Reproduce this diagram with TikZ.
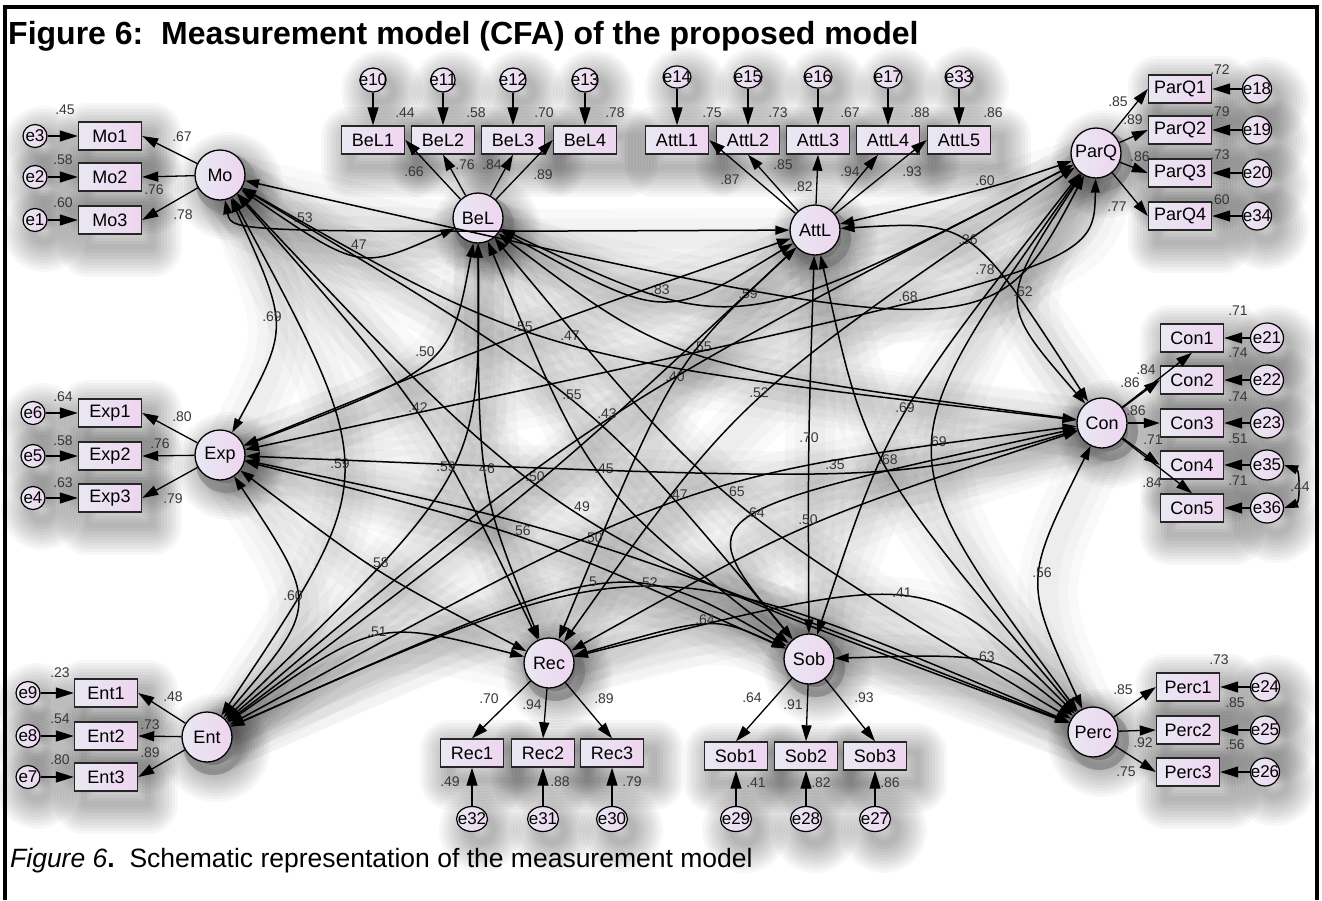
\documentclass[tikz,border=0pt]{standalone}
\usepackage{fontspec}
\setmainfont{Liberation Sans}
\usetikzlibrary{arrows.meta,calc,shapes.geometric}

\definecolor{lavA}{RGB}{233,232,242}
\definecolor{lavB}{RGB}{238,213,240}
\definecolor{numgray}{RGB}{55,55,55}

\pgfdeclarelayer{haze}
\pgfsetlayers{haze,main}

\tikzset{
  lat/.style={circle, draw=black, line width=1.3pt, left color=lavA, right color=lavB,
    minimum size=50pt, inner sep=0pt, font=\fontsize{18}{18}\selectfont},
  obs/.style={rectangle, draw=black!85, line width=1.4pt, left color=lavA, right color=lavB,
    minimum width=63pt, minimum height=28pt, inner sep=0pt, font=\fontsize{18}{18}\selectfont},
  err/.style={ellipse, draw=black, line width=1.2pt, left color=lavA, right color=lavB,
    inner sep=-5pt, font=\fontsize{17}{17}\selectfont},
  errL/.style={err, minimum width=24pt, minimum height=23pt},
  errT/.style={err, minimum width=24pt, minimum height=24pt},
  errA/.style={err, minimum width=28pt, minimum height=22pt},
  errR/.style={err, minimum width=29pt, minimum height=28pt},
  errC/.style={err, minimum width=33pt, minimum height=30pt},
  errB/.style={err, minimum width=31pt, minimum height=25pt},
  num/.style={text=numgray, font=\fontsize{14}{14}\selectfont, inner sep=0pt},
  load/.style={draw=black, line width=1.3pt, -{Triangle[length=16pt,width=10pt]}},
  errar/.style={draw=black, line width=1.3pt, -{Triangle[length=18pt,width=11pt]}},
  covl/.style={draw=black, line width=1.5pt,
    {Triangle[length=14pt,width=9pt]}-{Triangle[length=14pt,width=9pt]}},
  hz/.style={draw=black, opacity=0.022, line cap=round},
  sh/.style={draw=black, opacity=0.032, line join=round},
}

% soft drop shadows, built from widening translucent outlines on the haze layer
\newcommand\bshadow[1]{%
  \begin{pgfonlayer}{haze}
    \foreach \w in {6,12,...,60}
      \path[sh, line width=\w pt]
        ([shift={(10,12)}]#1.south west) rectangle ([shift={(10,12)}]#1.north east);
  \end{pgfonlayer}}
\newcommand\cshadow[2]{%
  \begin{pgfonlayer}{haze}
    \foreach \w in {6,12,...,60}
      \path[sh, line width=\w pt] ([shift={(9,11)}]#1.center) circle (#2);
  \end{pgfonlayer}}

% covariance between two latent factors: the curve passes next to its label
\newcommand\covar[5]{%
  \path ($(#1)!0.5!(#2)$) coordinate (cvm);
  \path ($(#3,#4)+(0,7)$) coordinate (cvl);
  \path ($(cvl)!-0.3333!(cvm)$) coordinate (cvc);
  \begin{pgfonlayer}{haze}
    \foreach \w in {60,40,20}
      \draw[hz, line width=\w pt] ([shift={(6,8)}]#1.center) .. controls ([shift={(6,8)}]cvc) .. ([shift={(6,8)}]#2.center);
  \end{pgfonlayer}
  \draw[covl] (#1) .. controls (cvc) .. (#2);
  \node[num] (c#1#2) at (#3,#4) {#5};
}

\begin{document}
\begin{tikzpicture}[x=1pt, y=-1pt]
\useasboundingbox (0,0) rectangle (1322,900);
\begin{pgfonlayer}{haze}
  \fill[white] (0,0) rectangle (1322,900);
\end{pgfonlayer}
\draw[line width=4pt] (5,900) -- (5,7) -- (1317,7) -- (1317,900);

\node[anchor=base west, inner sep=0pt, font=\bfseries\fontsize{32}{32}\selectfont] (title) at (8,44)
  {Figure 6:\ \ Measurement model (CFA) of the proposed model};
\node[anchor=base west, inner sep=0pt, font=\fontsize{26.5}{26.5}\selectfont] (caption) at (10,867)
  {\textit{Figure 6}\textbf{.}\ \ Schematic representation of the measurement model};

% ---------- latent factors ----------
\node[lat] (Mo)   at (220,175)  {Mo};
\node[lat] (BeL)  at (478,218)  {BeL};
\node[lat] (AttL) at (815,230)  {AttL};
\node[lat] (ParQ) at (1096,153) {ParQ};
\node[lat] (Exp)  at (220,455)  {Exp};
\node[lat] (Con)  at (1102,423) {Con};
\node[lat] (Ent)  at (207,737)  {Ent};
\node[lat] (Rec)  at (549,663)  {Rec};
\node[lat] (Sob)  at (809,659)  {Sob};
\node[lat] (Perc) at (1093,732) {Perc};
\foreach \f in {Mo,BeL,AttL,ParQ,Exp,Con,Ent,Rec,Sob,Perc} {\cshadow{\f}{24}}

% ---------- Mo ----------
\foreach \i/\y/\e in {1/136/3, 2/177/2, 3/220/1} {
  \node[obs] (Mo\i) at (110,\y) {Mo\i};
  \bshadow{Mo\i}
  \node[errL] (e\e) at (35,\y) {e\e};
  \cshadow{e\e}{11}
  \draw[errar] (e\e) -- (Mo\i);
  \draw[load] (Mo) -- (Mo\i.east);
}
\node[num] (sMo1) at (65,110) {.45};
\node[num] (sMo2) at (63,160) {.58};
\node[num] (sMo3) at (63,203) {.60};
\node[num] (lMo1) at (182,137) {.67};
\node[num] (lMo2) at (154,190) {.76};
\node[num] (lMo3) at (183,215) {.78};

% ---------- Exp ----------
\foreach \i/\y/\e in {1/413/6, 2/456/5, 3/498/4} {
  \node[obs] (Exp\i) at (110,\y) {Exp\i};
  \bshadow{Exp\i}
  \node[errL] (e\e) at (33,\y) {e\e};
  \cshadow{e\e}{11}
  \draw[errar] (e\e) -- (Exp\i);
  \draw[load] (Exp) -- (Exp\i.east);
}
\node[num] (sExp1) at (63,397) {.64};
\node[num] (sExp2) at (63,441) {.58};
\node[num] (sExp3) at (63,483) {.63};
\node[num] (lExp1) at (182,417) {.80};
\node[num] (lExp2) at (160,444) {.76};
\node[num] (lExp3) at (173,499) {.79};

% ---------- Ent ----------
\foreach \i/\y/\e in {1/693/9, 2/736/8, 3/777/7} {
  \node[obs] (Ent\i) at (106,\y) {Ent\i};
  \bshadow{Ent\i}
  \node[errL] (e\e) at (28,\y) {e\e};
  \cshadow{e\e}{11}
  \draw[errar] (e\e) -- (Ent\i);
  \draw[load] (Ent) -- (Ent\i.east);
}
\node[num] (sEnt1) at (60,673) {.23};
\node[num] (sEnt2) at (60,719) {.54};
\node[num] (sEnt3) at (60,760) {.80};
\node[num] (lEnt1) at (173,697) {.48};
\node[num] (lEnt2) at (150,725) {.73};
\node[num] (lEnt3) at (150,753) {.89};

% ---------- BeL ----------
\foreach \i/\x/\e in {1/373/10, 2/443/11, 3/513/12, 4/585/13} {
  \node[obs] (BeL\i) at (\x,140) {BeL\i};
  \bshadow{BeL\i}
  \node[errT] (e\e) at (\x,80) {e\e};
  \cshadow{e\e}{11}
  \draw[errar] (e\e) -- (BeL\i);
}
\draw[load] (BeL) -- (BeL1.east);
\draw[load] (BeL) -- (BeL2.south);
\draw[load] (BeL) -- (BeL3.south);
\draw[load] (BeL) -- (BeL4.west);
\node[num] (sBeL1) at (405,113) {.44};
\node[num] (sBeL2) at (476,113) {.58};
\node[num] (sBeL3) at (544,113) {.70};
\node[num] (sBeL4) at (615,113) {.78};
\node[num] (lBeL1) at (414,172) {.66};
\node[num] (lBeL2) at (465,165) {.76};
\node[num] (lBeL3) at (492,165) {.84};
\node[num] (lBeL4) at (543,175) {.89};

% ---------- AttL ----------
\foreach \i/\x/\e in {1/677/14, 2/748/15, 3/818/16, 4/888/17, 5/959/33} {
  \node[obs] (AttL\i) at (\x,140) {AttL\i};
  \bshadow{AttL\i}
  \node[errA] (e\e) at (\x,77) {e\e};
  \cshadow{e\e}{11}
  \draw[errar] (e\e) -- (AttL\i);
}
\draw[load] (AttL) -- (AttL1.east);
\draw[load] (AttL) -- (AttL2.south);
\draw[load] (AttL) -- (AttL3.south);
\draw[load] (AttL) -- ([xshift=-10pt]AttL4.south);
\draw[load] (AttL) -- (AttL5.west);
\node[num] (sAttL1) at (712,113) {.75};
\node[num] (sAttL2) at (778,113) {.73};
\node[num] (sAttL3) at (850,113) {.67};
\node[num] (sAttL4) at (920,113) {.88};
\node[num] (sAttL5) at (993,113) {.86};
\node[num] (lAttL1) at (730,180) {.87};
\node[num] (lAttL2) at (783,165) {.85};
\node[num] (lAttL3) at (803,187) {.82};
\node[num] (lAttL4) at (850,172) {.94};
\node[num] (lAttL5) at (912,172) {.93};

% ---------- ParQ ----------
\foreach \i/\y/\e in {1/89/18, 2/130/19, 3/173/20, 4/216/34} {
  \node[obs] (ParQ\i) at (1180,\y) {ParQ\i};
  \bshadow{ParQ\i}
  \node[errR] (e\e) at (1257,\y) {e\e};
  \cshadow{e\e}{13}
  \draw[errar] (e\e) -- (ParQ\i);
  \draw[load] (ParQ) -- (ParQ\i.west);
}
\node[num] (sParQ1) at (1220,70) {.72};
\node[num] (sParQ2) at (1220,112) {.79};
\node[num] (sParQ3) at (1220,155) {.73};
\node[num] (sParQ4) at (1220,200) {.60};
\node[num] (lParQ1) at (1118,102) {.85};
\node[num] (lParQ2) at (1133,120) {.89};
\node[num] (lParQ3) at (1140,157) {.86};
\node[num] (lParQ4) at (1117,207) {.77};

% ---------- Con ----------
\foreach \i/\y/\e in {1/338/21, 2/380/22, 3/423/23, 4/465/35, 5/508/36} {
  \node[obs] (Con\i) at (1192,\y) {Con\i};
  \bshadow{Con\i}
  \node[errC] (e\e) at (1267,\y) {e\e};
  \cshadow{e\e}{14}
  \draw[errar] (e\e) -- (Con\i);
}
\draw[load] (Con) -- (Con1.south);
\draw[load] (Con) -- (Con2.west);
\draw[load] (Con) -- (Con3.west);
\draw[load] (Con) -- (Con4.west);
\draw[load] (Con) -- (Con5.north);
\draw[covl] (e35.east) to[bend left=70] (e36.east);
\node[num] (ce35e36) at (1300,487) {.44};
\node[num] (sCon1) at (1238,311) {.71};
\node[num] (sCon2) at (1238,353) {.74};
\node[num] (sCon3) at (1238,397) {.74};
\node[num] (sCon4) at (1238,439) {.51};
\node[num] (sCon5) at (1238,481) {.71};
\node[num] (lCon1) at (1146,370) {.84};
\node[num] (lCon2) at (1130,383) {.86};
\node[num] (lCon3) at (1136,411) {.86};
\node[num] (lCon4) at (1153,440) {.71};
\node[num] (lCon5) at (1152,483) {.84};

% ---------- Perc ----------
\foreach \i/\y/\e in {1/687/24, 2/730/25, 3/772/26} {
  \node[obs] (Perc\i) at (1188,\y) {Perc\i};
  \bshadow{Perc\i}
  \node[errR] (e\e) at (1265,\y) {e\e};
  \cshadow{e\e}{13}
  \draw[errar] (e\e) -- (Perc\i);
  \draw[load] (Perc) -- (Perc\i.west);
}
\node[num] (sPerc1) at (1219,660) {.73};
\node[num] (sPerc2) at (1235,703) {.85};
\node[num] (sPerc3) at (1235,745) {.56};
\node[num] (lPerc1) at (1123,690) {.85};
\node[num] (lPerc2) at (1143,743) {.92};
\node[num] (lPerc3) at (1126,772) {.75};

% ---------- Rec ----------
\foreach \i/\x/\e in {1/472/32, 2/543/31, 3/612/30} {
  \node[obs] (Rec\i) at (\x,753) {Rec\i};
  \bshadow{Rec\i}
  \node[errB] (e\e) at (\x,819) {e\e};
  \cshadow{e\e}{12}
  \draw[errar] (e\e) -- (Rec\i);
  \draw[load] (Rec) -- (Rec\i.north);
}
\node[num] (sRec1) at (450,782) {.49};
\node[num] (sRec2) at (560,782) {.88};
\node[num] (sRec3) at (632,782) {.79};
\node[num] (lRec1) at (489,699) {.70};
\node[num] (lRec2) at (532,705) {.94};
\node[num] (lRec3) at (604,699) {.89};

% ---------- Sob ----------
\foreach \i/\x/\e in {1/736/29, 2/806/28, 3/875/27} {
  \node[obs] (Sob\i) at (\x,756) {Sob\i};
  \bshadow{Sob\i}
  \node[errB] (e\e) at (\x,819) {e\e};
  \cshadow{e\e}{13}
  \draw[errar] (e\e) -- (Sob\i);
  \draw[load] (Sob) -- (Sob\i.north);
}
\node[num] (sSob1) at (756,783) {.41};
\node[num] (sSob2) at (821,783) {.82};
\node[num] (sSob3) at (890,783) {.86};
\node[num] (lSob1) at (752,698) {.64};
\node[num] (lSob2) at (793,705) {.91};
\node[num] (lSob3) at (864,698) {.93};

% ---------- factor covariances ----------
\covar{Mo}{BeL}{357}{245}{.47}
\covar{Mo}{Exp}{272}{317}{.69}
\covar{Mo}{Ent}{340}{464}{.59}
\covar{Mo}{AttL}{303}{218}{.53}
\covar{Mo}{ParQ}{908}{297}{.68}
\covar{Mo}{Con}{570}{336}{.47}
\covar{Mo}{Rec}{418}{408}{.42}
\covar{Mo}{Sob}{572}{395}{.55}
\covar{Mo}{Perc}{582}{507}{49}
\covar{BeL}{AttL}{660}{290}{.83}
\covar{BeL}{ParQ}{748}{294}{.59}
\covar{BeL}{Exp}{425}{352}{.50}
\covar{BeL}{Con}{702}{347}{.55}
\covar{BeL}{Ent}{446}{467}{.59}
\covar{BeL}{Rec}{487}{469}{46}
\covar{BeL}{Sob}{604}{469}{.45}
\covar{BeL}{Perc}{735}{492}{.65}
\covar{AttL}{ParQ}{985}{181}{.60}
\covar{AttL}{Exp}{523}{327}{.55}
\covar{AttL}{Con}{968}{240}{.36}
\covar{AttL}{Ent}{535}{477}{.50}
\covar{AttL}{Rec}{675}{377}{.40}
\covar{AttL}{Sob}{809}{438}{.70}
\covar{AttL}{Perc}{888}{460}{.68}
\covar{ParQ}{Exp}{985}{270}{.78}
\covar{ParQ}{Con}{1023}{292}{.62}
\covar{ParQ}{Ent}{607}{414}{.43}
\covar{ParQ}{Rec}{759}{393}{.52}
\covar{ParQ}{Sob}{905}{408}{.69}
\covar{ParQ}{Perc}{937}{442}{.69}
\covar{Exp}{Con}{835}{465}{.35}
\covar{Exp}{Ent}{293}{596}{.60}
\covar{Exp}{Rec}{379}{563}{.58}
\covar{Exp}{Sob}{521}{531}{.56}
\covar{Exp}{Perc}{593}{538}{.50}
\covar{Con}{Ent}{678}{495}{.47}
\covar{Con}{Rec}{808}{520}{.50}
\covar{Con}{Sob}{755}{513}{.64}
\covar{Con}{Perc}{1042}{573}{.56}
\covar{Ent}{Rec}{377}{632}{.51}
\covar{Ent}{Sob}{593}{582}{5}
\covar{Ent}{Perc}{648}{583}{.52}
\covar{Rec}{Sob}{705}{620}{.64}
\covar{Rec}{Perc}{902}{593}{.41}
\covar{Sob}{Perc}{985}{657}{.63}
\end{tikzpicture}
\end{document}
